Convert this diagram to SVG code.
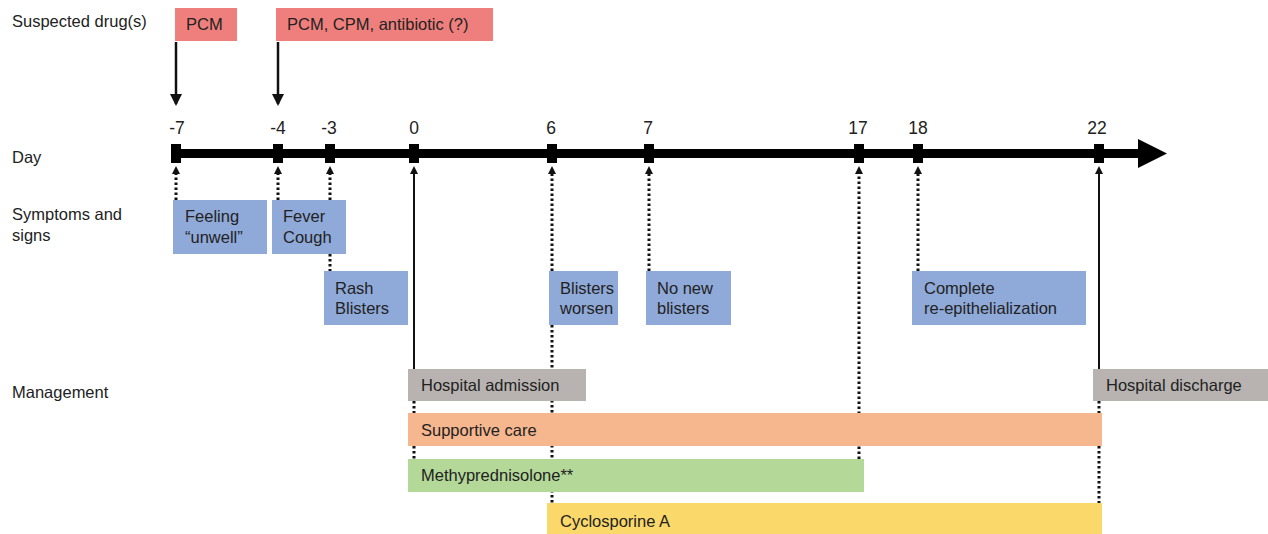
<svg xmlns="http://www.w3.org/2000/svg" width="1268" height="534" viewBox="0 0 1268 534">
<style>
text{font-family:"Liberation Sans",Arial,sans-serif;font-size:16.5px;fill:#222}
.day{font-size:17.5px}
.drug{fill:#EF7F7C}
.sym{fill:#8FA9D9}
.gray{fill:#B8B3B1}
.dot{stroke:#111;stroke-width:3;stroke-dasharray:2.5 2.5;fill:none}
.sol{stroke:#111;stroke-width:2;fill:none}
.sol3{stroke:#111;stroke-width:2.5;fill:none}
.tick{fill:#000}
</style>
<defs>
<marker id="ah" markerWidth="8" markerHeight="8" refX="4" refY="4" orient="auto" markerUnits="userSpaceOnUse" viewBox="0 0 8 8">
<path d="M0,0 L8,4 L0,8 z" fill="#111"/>
</marker>
<marker id="ahb" markerWidth="12" markerHeight="12" refX="10" refY="6" orient="auto" markerUnits="userSpaceOnUse" viewBox="0 0 12 12">
<path d="M0,0 L12,6 L0,12 z" fill="#111"/>
</marker>
</defs>
<rect width="1268" height="534" fill="#fff"/>
<g id="row-labels">
<text x="12" y="27">Suspected drug(s)</text>
<text x="12" y="163">Day</text>
<text x="12" y="220">Symptoms and</text>
<text x="12" y="241">signs</text>
<text x="12" y="398">Management</text>
</g>
<g id="timeline">
<rect x="172" y="149" width="970" height="9" fill="#000"/>
<polygon points="1138,139 1167,153.5 1138,168" fill="#000"/>
<g class="tick">
<rect x="171" y="144" width="10" height="19"/>
<rect x="273" y="144" width="10" height="19"/>
<rect x="325" y="144" width="10" height="19"/>
<rect x="409" y="144" width="10" height="19"/>
<rect x="547" y="144" width="10" height="19"/>
<rect x="644" y="144" width="10" height="19"/>
<rect x="854" y="144" width="10" height="19"/>
<rect x="913" y="144" width="10" height="19"/>
<rect x="1094" y="144" width="10" height="19"/>
</g>
<g text-anchor="middle">
<text class="day" x="177" y="134">-7</text>
<text class="day" x="278" y="134">-4</text>
<text class="day" x="329" y="134">-3</text>
<text class="day" x="414" y="134">0</text>
<text class="day" x="551" y="134">6</text>
<text class="day" x="648" y="134">7</text>
<text class="day" x="858" y="134">17</text>
<text class="day" x="918" y="134">18</text>
<text class="day" x="1097" y="134">22</text>
</g>
</g>
<g id="connectors">
<line class="sol3" x1="176" y1="42" x2="176" y2="104" marker-end="url(#ahb)"/>
<line class="sol3" x1="278" y1="42" x2="278" y2="104" marker-end="url(#ahb)"/>
<line class="dot" x1="176" y1="200" x2="176" y2="170" marker-end="url(#ah)"/>
<line class="dot" x1="278" y1="200" x2="278" y2="170" marker-end="url(#ah)"/>
<line class="dot" x1="330" y1="200" x2="330" y2="170" marker-end="url(#ah)"/>
<line class="dot" x1="330" y1="254" x2="330" y2="271"/>
<line class="sol" x1="414" y1="369" x2="414" y2="170" marker-end="url(#ah)"/>
<line class="dot" x1="552" y1="271" x2="552" y2="170" marker-end="url(#ah)"/>
<line class="dot" x1="552" y1="325" x2="552" y2="503"/>
<line class="dot" x1="649" y1="271" x2="649" y2="170" marker-end="url(#ah)"/>
<line class="dot" x1="859" y1="459" x2="859" y2="170" marker-end="url(#ah)"/>
<line class="dot" x1="918" y1="271" x2="918" y2="170" marker-end="url(#ah)"/>
<line class="sol" x1="1099" y1="369" x2="1099" y2="170" marker-end="url(#ah)"/>
<line class="dot" x1="1099" y1="401" x2="1099" y2="503"/>
<line class="dot" x1="414" y1="401" x2="414" y2="459"/>
</g>
<g id="drug-pcm"><rect class="drug" x="175" y="8" width="62" height="33"/><text x="186" y="30">PCM</text></g>
<g id="drug-multi"><rect class="drug" x="276" y="8" width="217" height="33"/><text x="287" y="30">PCM, CPM, antibiotic (?)</text></g>
<g id="sym-unwell"><rect class="sym" x="173" y="200" width="94" height="54"/><text x="185" y="222">Feeling</text><text x="185" y="243">“unwell”</text></g>
<g id="sym-fever"><rect class="sym" x="272" y="200" width="74" height="54"/><text x="283" y="222">Fever</text><text x="283" y="243">Cough</text></g>
<g id="sym-rash"><rect class="sym" x="324" y="271" width="84" height="54"/><text x="335" y="294">Rash</text><text x="335" y="314">Blisters</text></g>
<g id="sym-worsen"><rect class="sym" x="549" y="271" width="69" height="54"/><text x="560" y="294">Blisters</text><text x="560" y="314">worsen</text></g>
<g id="sym-nonew"><rect class="sym" x="646" y="271" width="85" height="54"/><text x="657" y="294">No new</text><text x="657" y="314">blisters</text></g>
<g id="sym-reepi"><rect class="sym" x="912" y="271" width="174" height="54"/><text x="924" y="294">Complete</text><text x="924" y="314">re-epithelialization</text></g>
<g id="mg-admission"><rect class="gray" x="408" y="369" width="178" height="32"/><text x="421" y="391">Hospital admission</text></g>
<g id="mg-discharge"><rect class="gray" x="1093" y="369" width="175" height="32"/><text x="1106" y="391">Hospital discharge</text></g>
<g id="mg-supportive"><rect fill="#F6B68E" x="408" y="413" width="694" height="33"/><text x="421" y="436">Supportive care</text></g>
<g id="mg-methyl"><rect fill="#B3D898" x="408" y="459" width="456" height="33"/><text x="421" y="481">Methyprednisolone**</text></g>
<g id="mg-cyclo"><rect fill="#FAD86A" x="547" y="503" width="555" height="31"/><text x="560" y="527">Cyclosporine A</text></g>
</svg>
